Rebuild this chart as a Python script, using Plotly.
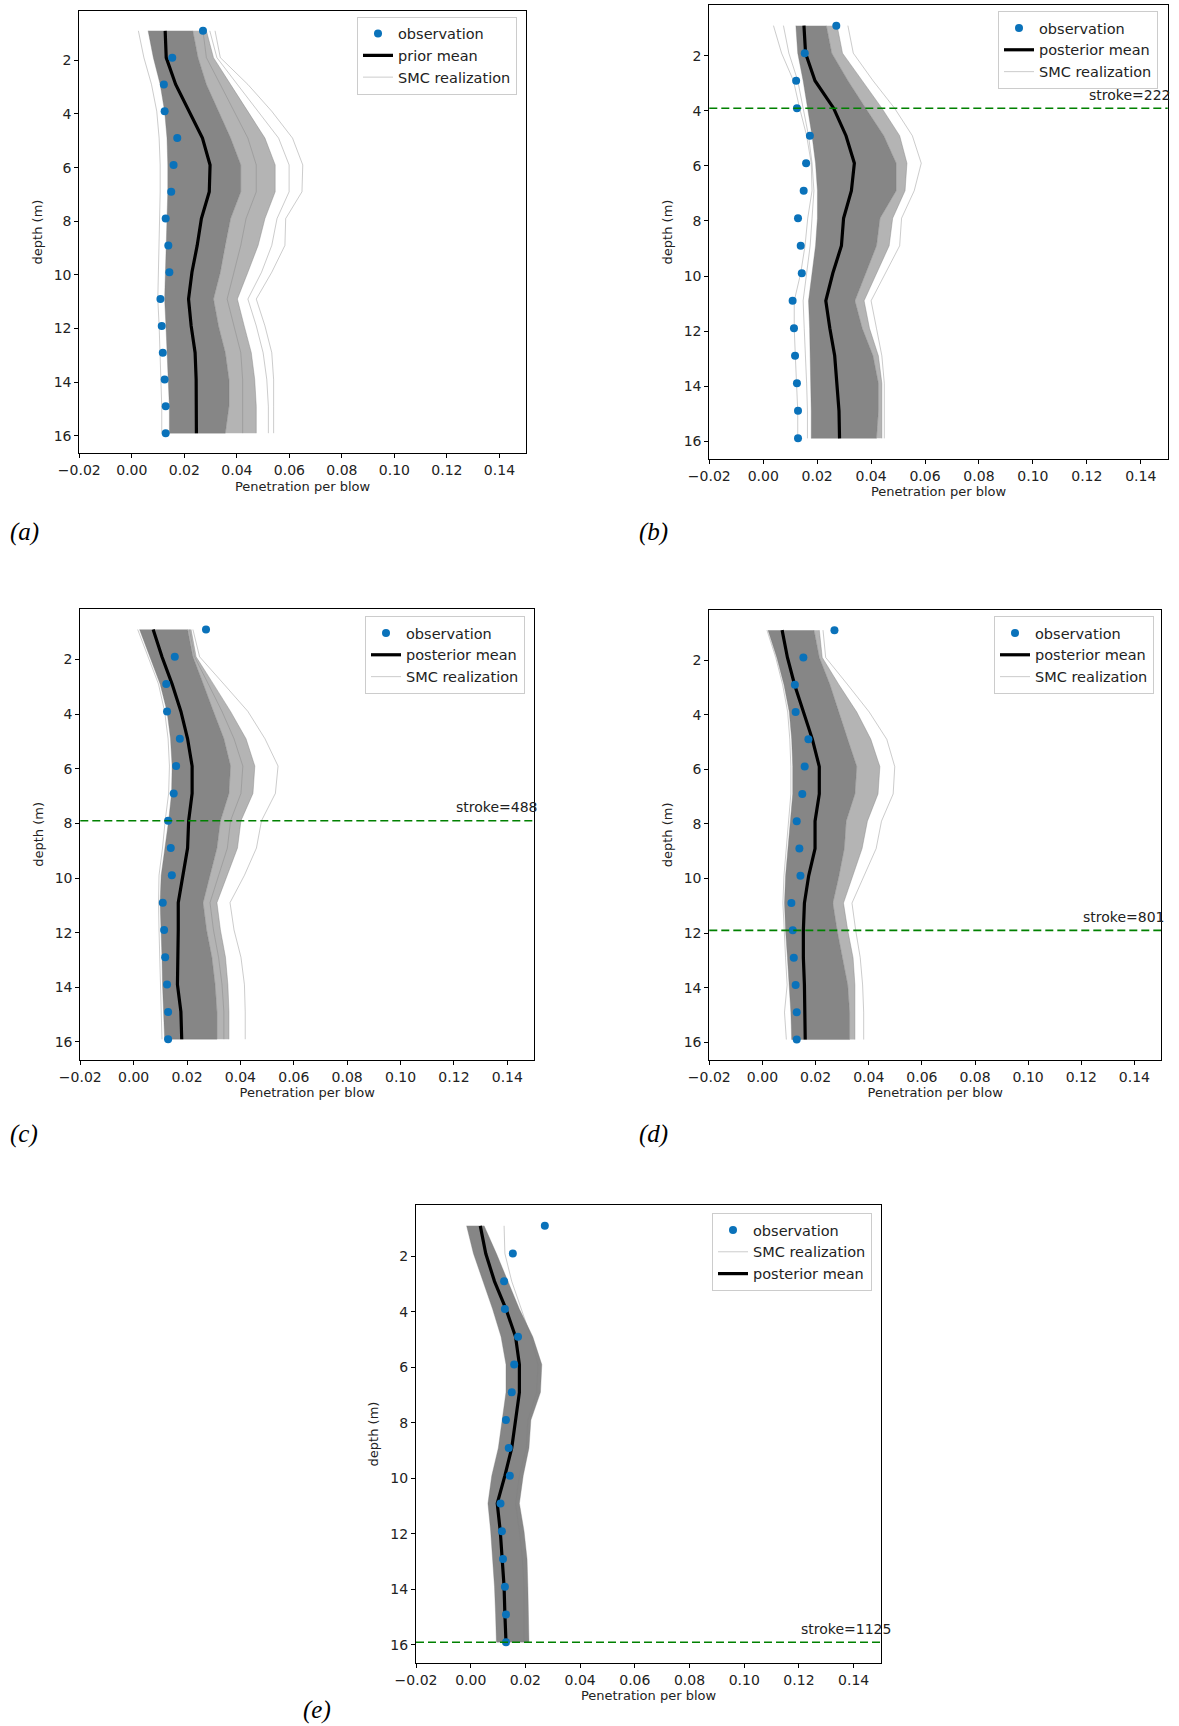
import plotly.graph_objects as go

# ---------------- data ----------------
depth = [0.9, 1.9, 2.9, 3.9, 4.9, 5.9, 6.9, 7.9, 8.9, 9.9, 10.9, 11.9, 12.9, 13.9, 14.9, 15.9]
x_ticks = [-0.02, 0.00, 0.02, 0.04, 0.06, 0.08, 0.10, 0.12, 0.14]
y_ticks = [2, 4, 6, 8, 10, 12, 14, 16]

observation = [0.0271, 0.0154, 0.0122, 0.0125, 0.0173, 0.0159, 0.0150, 0.0129,
               0.0139, 0.0143, 0.0109, 0.0114, 0.0118, 0.0125, 0.0129, 0.0129]

# (a) prior
mean_a = [0.0127, 0.0131, 0.0167, 0.0219, 0.0269, 0.0298, 0.0295, 0.0265,
          0.0249, 0.0229, 0.0216, 0.0226, 0.0241, 0.0245, 0.0246, 0.0246]
core_left_a = [0.0062, 0.0082, 0.0108, 0.0125, 0.0134, 0.0137, 0.0137, 0.0134,
               0.0133, 0.0130, 0.0125, 0.0130, 0.0135, 0.0140, 0.0143, 0.0143]
core_right_a = [0.0232, 0.0252, 0.0284, 0.0330, 0.0376, 0.0415, 0.0415, 0.0376,
                0.0356, 0.0337, 0.0311, 0.0330, 0.0356, 0.0370, 0.0370, 0.0356]
real_a1 = [0.0025, 0.0046, 0.0075, 0.0095, 0.0104, 0.0108, 0.0108, 0.0106,
           0.0104, 0.0101, 0.0099, 0.0104, 0.0108, 0.0112, 0.0114, 0.0114]
real_a2 = [0.0271, 0.0284, 0.0337, 0.0389, 0.0442, 0.0474, 0.0474, 0.0435,
           0.0415, 0.0389, 0.0363, 0.0389, 0.0415, 0.0422, 0.0422, 0.0422]
real_a3 = [0.0284, 0.0311, 0.0376, 0.0442, 0.0507, 0.0546, 0.0546, 0.0507,
           0.0481, 0.0442, 0.0402, 0.0428, 0.0455, 0.0468, 0.0474, 0.0474]
real_a4 = [0.0297, 0.0324, 0.0402, 0.0481, 0.0559, 0.0599, 0.0599, 0.0553,
           0.0533, 0.0494, 0.0442, 0.0474, 0.0500, 0.0514, 0.0520, 0.0520]
real_a5 = [0.0317, 0.0337, 0.0442, 0.0533, 0.0612, 0.0651, 0.0648, 0.0586,
           0.0583, 0.0533, 0.0474, 0.0507, 0.0533, 0.0540, 0.0540, 0.0540]

# (b) posterior, stroke 222
mean_b = [0.0151, 0.0157, 0.0192, 0.0261, 0.0307, 0.0338, 0.0327, 0.0298,
          0.0290, 0.0258, 0.0232, 0.0247, 0.0265, 0.0274, 0.0281, 0.0283]
core_left_b = [0.0121, 0.0128, 0.0148, 0.0165, 0.0181, 0.0194, 0.0201, 0.0201,
               0.0194, 0.0181, 0.0168, 0.0172, 0.0174, 0.0178, 0.0178, 0.0178]
core_right_b = [0.0234, 0.0254, 0.0314, 0.0380, 0.0447, 0.0493, 0.0493, 0.0433,
                0.0420, 0.0380, 0.0340, 0.0367, 0.0407, 0.0427, 0.0427, 0.0420]
real_b1 = [0.0038, 0.0068, 0.0112, 0.0135, 0.0161, 0.0178, 0.0181, 0.0165,
           0.0155, 0.0139, 0.0115, 0.0115, 0.0119, 0.0124, 0.0128, 0.0128]
real_b2 = [0.0075, 0.0095, 0.0128, 0.0148, 0.0168, 0.0181, 0.0188, 0.0181,
           0.0174, 0.0161, 0.0148, 0.0152, 0.0157, 0.0161, 0.0164, 0.0164]
real_b3 = [0.0274, 0.0294, 0.0367, 0.0440, 0.0506, 0.0533, 0.0526, 0.0480,
           0.0467, 0.0420, 0.0374, 0.0394, 0.0427, 0.0440, 0.0440, 0.0440]
real_b4 = [0.0314, 0.0334, 0.0407, 0.0487, 0.0553, 0.0586, 0.0560, 0.0513,
           0.0506, 0.0453, 0.0400, 0.0420, 0.0440, 0.0449, 0.0449, 0.0449]

# (c) posterior, stroke 488
mean_c = [0.0073, 0.0106, 0.0144, 0.0177, 0.0202, 0.0219, 0.0219, 0.0206,
          0.0202, 0.0183, 0.0167, 0.0167, 0.0167, 0.0164, 0.0177, 0.0180]
core_left_c = [0.0022, 0.0060, 0.0099, 0.0125, 0.0138, 0.0144, 0.0142, 0.0131,
               0.0118, 0.0103, 0.0099, 0.0103, 0.0106, 0.0108, 0.0112, 0.0116]
core_right_c = [0.0202, 0.0222, 0.0260, 0.0299, 0.0338, 0.0363, 0.0357, 0.0325,
                0.0312, 0.0286, 0.0260, 0.0273, 0.0293, 0.0305, 0.0312, 0.0312]
real_c1 = [0.0015, 0.0054, 0.0093, 0.0116, 0.0129, 0.0134, 0.0131, 0.0118,
           0.0108, 0.0095, 0.0093, 0.0095, 0.0098, 0.0100, 0.0103, 0.0106]
real_c2 = [0.0209, 0.0228, 0.0280, 0.0331, 0.0376, 0.0409, 0.0402, 0.0363,
           0.0351, 0.0318, 0.0286, 0.0299, 0.0318, 0.0331, 0.0338, 0.0338]
real_c3 = [0.0215, 0.0234, 0.0299, 0.0363, 0.0421, 0.0454, 0.0447, 0.0402,
           0.0389, 0.0351, 0.0312, 0.0325, 0.0344, 0.0353, 0.0357, 0.0357]
real_c4 = [0.0222, 0.0247, 0.0338, 0.0428, 0.0492, 0.0541, 0.0531, 0.0479,
           0.0460, 0.0415, 0.0361, 0.0376, 0.0402, 0.0415, 0.0418, 0.0418]

# (d) posterior, stroke 801
mean_d = [0.0074, 0.0094, 0.0121, 0.0154, 0.0188, 0.0214, 0.0214, 0.0198,
          0.0198, 0.0174, 0.0158, 0.0154, 0.0154, 0.0158, 0.0161, 0.0161]
core_left_d = [0.0021, 0.0054, 0.0081, 0.0101, 0.0110, 0.0114, 0.0114, 0.0105,
               0.0097, 0.0087, 0.0083, 0.0087, 0.0094, 0.0101, 0.0107, 0.0110]
core_right_d = [0.0194, 0.0214, 0.0254, 0.0288, 0.0321, 0.0355, 0.0348, 0.0315,
                0.0308, 0.0288, 0.0265, 0.0281, 0.0301, 0.0321, 0.0328, 0.0328]
real_d1 = [0.0017, 0.0050, 0.0076, 0.0095, 0.0103, 0.0107, 0.0107, 0.0099,
           0.0091, 0.0081, 0.0077, 0.0081, 0.0087, 0.0093, 0.0083, 0.0090]
real_d2 = [0.0214, 0.0225, 0.0288, 0.0355, 0.0408, 0.0442, 0.0435, 0.0395,
           0.0375, 0.0341, 0.0305, 0.0321, 0.0341, 0.0348, 0.0348, 0.0348]
real_d3 = [0.0228, 0.0238, 0.0321, 0.0402, 0.0468, 0.0498, 0.0492, 0.0448,
           0.0428, 0.0381, 0.0337, 0.0351, 0.0368, 0.0377, 0.0381, 0.0381]

# (e) posterior, stroke 1125
mean_e = [0.0035, 0.0055, 0.0087, 0.0129, 0.0164, 0.0178, 0.0178, 0.0164,
          0.0150, 0.0125, 0.0097, 0.0108, 0.0115, 0.0122, 0.0125, 0.0129]
core_left_e = [-0.0015, 0.0010, 0.0045, 0.0080, 0.0111, 0.0129, 0.0129, 0.0115,
               0.0101, 0.0077, 0.0063, 0.0073, 0.0080, 0.0087, 0.0091, 0.0094]
core_right_e = [0.0049, 0.0094, 0.0136, 0.0178, 0.0227, 0.0260, 0.0255, 0.0220,
                0.0213, 0.0192, 0.0178, 0.0195, 0.0206, 0.0209, 0.0212, 0.0213]
real_e1 = [0.0122, 0.0125, 0.0150, 0.0185, 0.0220, 0.0246, 0.0241, 0.0209,
           0.0203, 0.0178, 0.0164, 0.0178, 0.0189, 0.0195, 0.0195, 0.0195]

stroke_depth = [None, 3.9, 7.9, 11.9, 15.9]
stroke_count = [None, 222, 488, 801, 1125]
mean_names = ["prior mean", "posterior mean", "posterior mean", "posterior mean", "posterior mean"]
panel_labels = ["(a)", "(b)", "(c)", "(d)", "(e)"]

panels = [
    dict(mean=mean_a, left=core_left_a, right=core_right_a, halo=real_a3,
         reals=[real_a1, real_a2, real_a3, real_a4, real_a5]),
    dict(mean=mean_b, left=core_left_b, right=core_right_b, halo=real_b3,
         reals=[real_b1, real_b2, real_b3, real_b4]),
    dict(mean=mean_c, left=core_left_c, right=core_right_c, halo=real_c3,
         reals=[real_c1, real_c2, real_c3, real_c4]),
    dict(mean=mean_d, left=core_left_d, right=core_right_d, halo=real_d2,
         reals=[real_d1, real_d2, real_d3]),
    dict(mean=mean_e, left=core_left_e, right=core_right_e, halo=None,
         reals=[real_e1]),
]

# ---------------- layout (pixel boxes of each axes) ----------------
W, H = 1179, 1726
boxes = [  # left, top, right, bottom
    (79.3, 10.7, 525.7, 453.3),
    (709.3, 5.0, 1167.7, 459.0),
    (80.3, 609.0, 534.0, 1059.7),
    (709.3, 609.7, 1161.0, 1060.0),
    (416.0, 1205.0, 881.0, 1663.0),
]
legend_pos = [  # right, top of legend box
    (517, 16.5), (1158, 11), (525, 616), (1154, 616), (872, 1213),
]
label_pos = [(24, 532), (653, 532), (24, 1134), (653, 1134), (317, 1710)]

FONT = "DejaVu Sans"
OBS_COLOR = "#0a72ba"
REAL_COLOR = "rgba(128,128,128,0.5)"
BAND_COLOR = "rgb(134,134,134)"
HALO_COLOR = "rgba(130,130,130,0.6)"

fig = go.Figure()
layout = dict(
    width=W, height=H, margin=dict(l=0, r=0, t=0, b=0, autoexpand=False),
    paper_bgcolor="white", plot_bgcolor="white",
    font=dict(family=FONT, size=14, color="black"),
    annotations=[], shapes=[],
)

for i, p in enumerate(panels):
    n = i + 1
    xa = "x" if n == 1 else f"x{n}"
    ya = "y" if n == 1 else f"y{n}"
    lg = "legend" if n == 1 else f"legend{n}"
    L, T, R, B = boxes[i]

    # semi-dense spread of realizations (between core edge and a realization)
    if p["halo"] is not None:
        fig.add_trace(go.Scatter(
            x=p["right"] + p["halo"][::-1], y=depth + depth[::-1],
            fill="toself", fillcolor=HALO_COLOR, mode="lines",
            line=dict(width=0), hoverinfo="skip", showlegend=False,
            xaxis=xa, yaxis=ya))
    # dense core of realizations
    fig.add_trace(go.Scatter(
        x=p["left"] + p["right"][::-1], y=depth + depth[::-1],
        fill="toself", fillcolor=BAND_COLOR, mode="lines",
        line=dict(color="rgba(120,120,120,0.6)", width=0.6),
        hoverinfo="skip", showlegend=False, xaxis=xa, yaxis=ya))
    # individual realization lines
    for j, r in enumerate(p["reals"]):
        fig.add_trace(go.Scatter(
            x=r, y=depth, mode="lines", name="SMC realization",
            line=dict(color=REAL_COLOR, width=0.8),
            showlegend=(j == 0), legend=lg,
            legendrank=(2 if n == 5 else 3),
            xaxis=xa, yaxis=ya))
    # mean
    fig.add_trace(go.Scatter(
        x=p["mean"], y=depth, mode="lines", name=mean_names[i],
        line=dict(color="black", width=3.2), legend=lg,
        legendrank=(3 if n == 5 else 2), xaxis=xa, yaxis=ya))
    # observations
    fig.add_trace(go.Scatter(
        x=observation, y=depth, mode="markers", name="observation",
        marker=dict(color=OBS_COLOR, size=8), legend=lg, legendrank=1,
        xaxis=xa, yaxis=ya))

    axis_common = dict(
        showline=True, linecolor="black", linewidth=1, mirror=True,
        ticks="outside", ticklen=4, tickcolor="black", tickwidth=1,
        showgrid=False, zeroline=False, automargin=False,
        tickfont=dict(family=FONT, size=14, color="#222222"),
    )
    layout["xaxis" if n == 1 else f"xaxis{n}"] = dict(
        axis_common, domain=[L / W, R / W], anchor=ya,
        range=[-0.02, 0.15], tickvals=x_ticks, tickformat=".2f",
        title=dict(text="Penetration per blow", standoff=4,
                   font=dict(family=FONT, size=13, color="#222222")),
    )
    layout["yaxis" if n == 1 else f"yaxis{n}"] = dict(
        axis_common, domain=[1 - B / H, 1 - T / H], anchor=xa,
        range=[16.65, 0.15], tickvals=y_ticks,
        title=dict(text="depth (m)", standoff=8,
                   font=dict(family=FONT, size=13, color="#222222")),
    )
    lx, ly = legend_pos[i]
    layout[lg] = dict(
        x=lx / W, y=1 - ly / H, xanchor="right", yanchor="top",
        xref="paper", yref="paper",
        bgcolor="white", bordercolor="#cccccc", borderwidth=1,
        font=dict(family=FONT, size=14.5, color="#222222"),
        traceorder="normal", itemwidth=30, tracegroupgap=0,
    )

    if stroke_depth[i] is not None:
        layout["shapes"].append(dict(
            type="line", xref=f"{xa} domain", yref=ya,
            x0=0, x1=1, y0=stroke_depth[i], y1=stroke_depth[i],
            line=dict(color="#008000", width=1.6, dash="8px,4px")))
        layout["annotations"].append(dict(
            x=0.12, y=stroke_depth[i] - 0.12, xref=xa, yref=ya,
            text=f"stroke={stroke_count[i]}", showarrow=False,
            xanchor="left", yanchor="bottom",
            font=dict(family=FONT, size=14, color="#222222")))

    cx, cy = label_pos[i]
    layout["annotations"].append(dict(
        x=cx / W, y=1 - cy / H, xref="paper", yref="paper",
        text=f"<i>{panel_labels[i]}</i>", showarrow=False,
        xanchor="center", yanchor="middle",
        font=dict(family="Liberation Serif", size=25, color="black")))

fig.update_layout(**layout)
fig.write_html("out.html")
